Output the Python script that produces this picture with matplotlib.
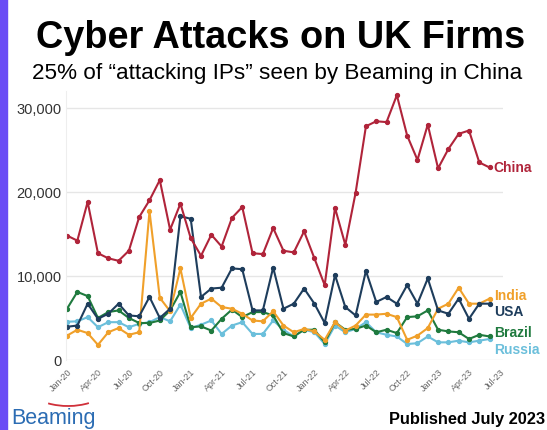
import matplotlib
matplotlib.use("Agg")
import matplotlib.pyplot as plt
from matplotlib.patches import Rectangle, Arc
import numpy as np

plt.rcParams['font.family'] = ['Liberation Sans', 'DejaVu Sans']

# monthly values, Jan-20 .. Jun-23
china = [14800, 14200, 18800, 12700, 12100, 11800, 13000, 17000, 19000, 21400,
         15500, 18600, 14500, 12400, 14900, 13500, 16900, 18200, 12700, 12600,
         15700, 13000, 12800, 15300, 12100, 8900, 18100, 13700, 19900, 27800,
         28400, 28300, 31500, 26700, 23800, 28000, 22800, 25100, 26900, 27300,
         23500, 22900]
usa = [3950, 4100, 6700, 4900, 5500, 6700, 5300, 5200, 7500, 5000,
       6100, 17100, 16800, 7500, 8500, 8600, 10900, 10800, 5900, 5900,
       11000, 6100, 6700, 8500, 6700, 4400, 10100, 6300, 5300, 10600,
       6900, 7500, 6700, 8900, 6700, 9700, 5900, 5500, 7300, 4900,
       6700, 6700]
india = [2900, 3600, 3200, 1800, 3300, 3800, 3000, 3300, 17700, 7400,
         5800, 10900, 5000, 6700, 7300, 6300, 6100, 5500, 4700, 4600,
         5800, 4100, 3300, 3700, 3400, 2400, 4500, 3500, 4100, 5400,
         5400, 5500, 5100, 2400, 2900, 3800, 6100, 6700, 8600, 6700,
         6700, 7300]
brazil = [6100, 8100, 7600, 5000, 5700, 5900, 5000, 4400, 4400, 4700,
          5900, 8100, 3900, 4000, 3500, 4900, 6000, 5100, 5700, 5700,
          5300, 3200, 2800, 3600, 3600, 2100, 4500, 3600, 3700, 4100,
          3300, 3600, 3200, 5100, 5200, 5900, 3600, 3400, 3300, 2500,
          3000, 2800]
russia = [4550, 4600, 5100, 3900, 4500, 4500, 3900, 4300, 4500, 5100,
          4600, 6600, 3800, 4200, 4700, 3100, 4100, 4500, 3100, 3100,
          4700, 3600, 2800, 3600, 3300, 1900, 4100, 3300, 3700, 4500,
          3300, 3000, 2800, 1900, 2000, 2800, 2100, 2100, 2300, 2100,
          2300, 2500]

tick_labels = ["Jan-20", "Apr-20", "Jul-20", "Oct-20", "Jan-21", "Apr-21",
               "Jul-21", "Oct-21", "Jan-22", "Apr-22", "Jul-22", "Oct-22",
               "Jan-23", "Apr-23", "Jul-23"]

series = [
    ("Russia", russia, "#6bbfdb"),
    ("Brazil", brazil, "#1f7a3e"),
    ("India", india, "#f0a02a"),
    ("USA", usa, "#1e3d5c"),
    ("China", china, "#b0243a"),
]
label_y = {"China": 22900, "India": 7700, "USA": 5800, "Brazil": 3300, "Russia": 1300}

fig = plt.figure(figsize=(5.47, 4.31), dpi=100)
fig.patches.append(Rectangle((0, 0), 7 / 547, 1, transform=fig.transFigure,
                             color="#6a4cf5", zorder=0))

ax = fig.add_axes([66 / 547, 70 / 431, 437 / 547, 269 / 431])
x = np.arange(len(china))
for name, vals, col in series:
    ax.plot(x, vals, '-o', color=col, lw=1.5, ms=2.8, mec=col)
    ax.text(len(china) - 0.6, label_y[name], name, color=col, fontsize=10,
            fontweight='bold', va='center', ha='left', clip_on=False)

ax.set_xlim(-0.1, 42.3)
ax.set_ylim(0, 32000)
ax.set_yticks([0, 10000, 20000, 30000])
ax.set_yticklabels(["0", "10,000", "20,000", "30,000"], fontsize=10.5, color="#333333")
ax.set_xticks(np.arange(0, 43, 3))
ax.set_xticklabels(tick_labels, rotation=45, ha='right', rotation_mode='anchor',
                   fontsize=6.5, color="#666666")
ax.tick_params(axis='y', length=0, pad=3)
ax.tick_params(axis='x', length=0, pad=5)
ax.grid(axis='y', color="#e6e6e6", lw=1)
ax.set_axisbelow(True)
for s in ["top", "right", "bottom"]:
    ax.spines[s].set_visible(False)
ax.spines["left"].set_color("#eeeeee")

fig.text(0.512, 1 - 38 / 431, "Cyber Attacks on UK Firms", ha='center', va='center',
         fontsize=27.3, fontweight='bold')
fig.text(0.507, 1 - 73 / 431, "25% of \u201cattacking IPs\u201d seen by Beaming in China",
         ha='center', va='center', fontsize=16.2)

# logo
fig.text(11 / 547, 1 - 419 / 431, "Beaming", ha='left', va='center',
         fontsize=15.5, color="#2b6cb3")
fig.patches.append(Arc((68 / 547, 1 - 387 / 431), 80 / 547, 40 / 431,
                       theta1=228, theta2=314, transform=fig.transFigure,
                       color="#d0303a", lw=1.3))
fig.text(545 / 547, 1 - 420 / 431, "Published July 2023", ha='right', va='center',
         fontsize=11.8, fontweight='bold')

fig.savefig("out.png", dpi=100)
